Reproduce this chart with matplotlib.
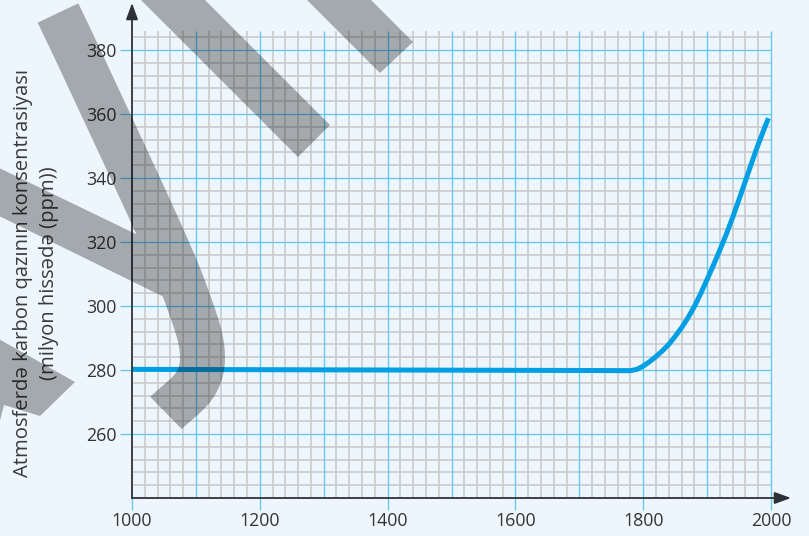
import numpy as np
import matplotlib
matplotlib.use("Agg")
import matplotlib.pyplot as plt
from matplotlib.transforms import Affine2D
from matplotlib.patches import PathPatch
from matplotlib.path import Path

# ---------------- data ----------------
years = [1000, 1200, 1400, 1600, 1700, 1780, 1790, 1800, 1810, 1820, 1830, 1840,
         1850, 1860, 1870, 1880, 1890, 1900, 1910, 1920, 1930, 1940, 1950,
         1960, 1970, 1980, 1990, 1996]
co2_ppm = [280.2, 280.1, 280.0, 279.9, 279.85, 279.8, 280.2, 281.2, 282.6, 284.2, 286.0, 288.0,
           290.5, 293.2, 296.3, 299.8, 303.9, 308.3, 312.8, 317.5, 322.4, 327.7, 333.3,
           339.1, 344.9, 350.5, 355.7, 358.7]
x_tick_labels = [1000, 1200, 1400, 1600, 1800, 2000]
y_tick_labels = [260, 280, 300, 320, 340, 360, 380]
y_label = "Atmosferdə karbon qazının konsentrasiyası\n(milyon hissədə (ppm))"

# ---------------- style ----------------
W, H = 809, 536
BG = "#EEF6FD"
BLUE_GRID = "#62C6F2"
GRAY_GRID = "#C9C9C9"
CURVE = "#009FE3"
AXIS = "#2E3236"
TXT = "#333333"
PX = 0.72  # points per pixel at dpi 100

plt.rcParams["font.family"] = ["Open Sans", "DejaVu Sans"]

fig = plt.figure(figsize=(W / 100, H / 100), dpi=100, facecolor=BG)

x_lo, y_lo = 1000, 240
px_per_year = (771 - 132) / 1000.0
px_per_ppm = (498 - 370) / 40.0
ax_left, ax_right, ax_top, ax_bottom = 132, 791, 3, 498
ax = fig.add_axes([ax_left / W, 1 - ax_bottom / H, (ax_right - ax_left) / W, (ax_bottom - ax_top) / H])
ax.set_facecolor("none")
ax.set_xlim(x_lo, x_lo + (ax_right - ax_left) / px_per_year)
ax.set_ylim(y_lo, y_lo + (ax_bottom - ax_top) / px_per_ppm)
for s in ax.spines.values():
    s.set_visible(False)

# grid (stops at 2000 / ~386)
grid_x_max, grid_y_top = 2000, 386
minor_x = np.arange(1020, 2000, 20)
minor_y = np.arange(244, 386, 4)
major_x = np.arange(1100, 2001, 100)
major_y = np.arange(260, 381, 20)
ax.vlines([v for v in minor_x if v % 100], y_lo, grid_y_top, color=GRAY_GRID, lw=1.6 * PX, zorder=1)
ax.hlines([v for v in minor_y if v % 20], x_lo, grid_x_max, color=GRAY_GRID, lw=1.6 * PX, zorder=1)
ax.vlines(major_x, y_lo, grid_y_top, color=BLUE_GRID, lw=1.3 * PX, zorder=2)
ax.hlines(major_y, x_lo, grid_x_max, color=BLUE_GRID, lw=1.3 * PX, zorder=2)

# ticks
ax.set_xticks(x_tick_labels)
ax.set_xticklabels([str(v) for v in x_tick_labels])
ax.set_yticks(y_tick_labels)
ax.set_yticklabels([str(v) for v in y_tick_labels])
ax.tick_params(axis="both", direction="out", length=12 * PX, width=1.3 * PX,
               color=BLUE_GRID, labelcolor=TXT, labelsize=12.8)
ax.tick_params(axis="x", pad=1.5)
ax.tick_params(axis="y", pad=2.5)

# curve
ax.plot(years, co2_ppm, color=CURVE, lw=5 * PX, solid_capstyle="butt",
        solid_joinstyle="round", zorder=4)

# axes with arrows
arrow_kw = dict(arrowstyle="-|>,head_length=0.55,head_width=0.2", color=AXIS, lw=1.8 * PX,
                shrinkA=0, shrinkB=0, mutation_scale=18)
ax.annotate("", xy=(1, 0), xytext=(0, 0), xycoords="axes fraction", arrowprops=arrow_kw, zorder=5)
ax.annotate("", xy=(0, 1), xytext=(0, 0), xycoords="axes fraction", arrowprops=arrow_kw, zorder=5)

# y label
fig.text(36 / W, 1 - 273 / H, y_label, rotation=90, ha="center", va="center",
         multialignment="center", fontsize=14.6, color="#3A3A3A", linespacing=1.45)

# ---------------- grey overlay strokes (decoration) ----------------
pix = Affine2D().scale(1 / W, -1 / H).translate(0, 1) + fig.transFigure


def catmull(pts, n=20):
    p = np.asarray(pts, float)
    p = np.vstack([2 * p[0] - p[1], p, 2 * p[-1] - p[-2]])
    out = []
    for i in range(1, len(p) - 2):
        p0, p1, p2, p3 = p[i - 1], p[i], p[i + 1], p[i + 2]
        for t in np.linspace(0, 1, n, endpoint=False):
            out.append(0.5 * ((2 * p1) + (-p0 + p2) * t + (2 * p0 - 5 * p1 + 4 * p2 - p3) * t ** 2
                              + (-p0 + 3 * p1 - 3 * p2 + p3) * t ** 3))
    out.append(p[-2])
    return np.array(out)


def stroke_outline(center, half):
    c = np.asarray(center, float)
    d = np.gradient(c, axis=0)
    d /= np.linalg.norm(d, axis=1)[:, None]
    nrm = np.column_stack([-d[:, 1], d[:, 0]])
    return np.vstack([c + half * nrm, (c - half * nrm)[::-1]])


def oriented(poly):
    p = np.asarray(poly, float)
    area = 0.5 * np.sum(p[:, 0] * np.roll(p[:, 1], -1) - np.roll(p[:, 0], -1) * p[:, 1])
    return p if area > 0 else p[::-1]


hook_center = catmull([(58, 13), (85, 70), (160, 232), (188, 300), (202, 349), (196, 383), (166, 413)])
shapes = [
    [(98, -43), (130, -75), (330, 125), (298, 157)],
    [(180, -127), (213, -158), (413, 42), (380, 73)],
    [(-5, 166), (140, 236), (170, 300), (-5, 214)],
    [(-3, 338), (75, 382), (40, 416), (4, 405), (-3, 432)],
    stroke_outline(hook_center, 22.5),
]
verts, codes = [], []
for shp in shapes:
    p = oriented(shp)
    verts.extend(p.tolist())
    verts.append(p[0].tolist())
    codes.extend([Path.MOVETO] + [Path.LINETO] * (len(p) - 1) + [Path.CLOSEPOLY])
fig.add_artist(PathPatch(Path(verts, codes), transform=pix, facecolor="black",
                         edgecolor="none", alpha=0.31, zorder=20))

fig.savefig("out.png", dpi=100, facecolor=BG)
